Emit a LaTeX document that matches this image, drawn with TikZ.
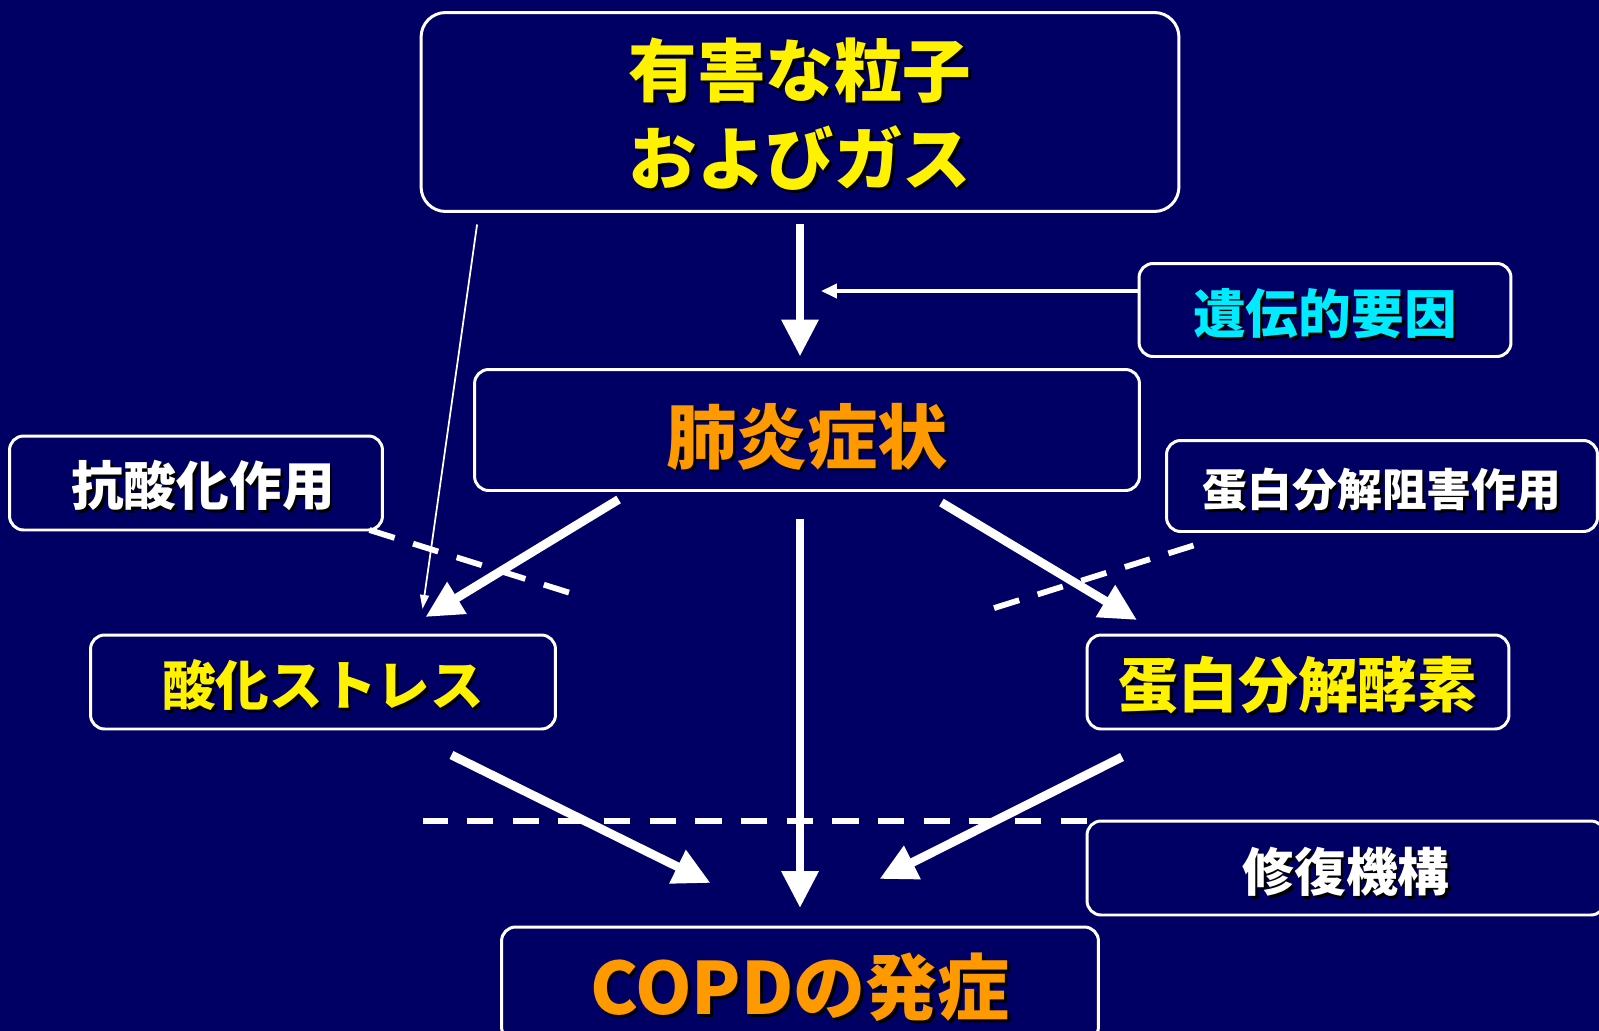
\documentclass[tikz,border=0pt]{standalone}
\usepackage{fontspec}
\newfontfamily\jp{Noto Sans CJK JP}
\usetikzlibrary{arrows.meta,calc}
\definecolor{bg}{RGB}{0,0,100}
\definecolor{orng}{RGB}{255,153,0}
\definecolor{cyn}{RGB}{0,235,255}
\newcommand\shtxt[2][2.5pt]{\raisebox{-#1}[\height][\depth]{\makebox[0pt][l]{\hspace{1.6pt}\raisebox{-1.6pt}{\color{black}#2}}#2}}
\tikzset{
  box/.style={draw=white, line width=1.7pt, rounded corners=8pt, inner sep=0pt, outer sep=0pt, align=center},
  bigarrow/.style={white, line width=5pt, -{Triangle[length=21pt,width=20pt]}},
  thinarrow/.style={white, line width=1pt, -{Triangle[length=8pt,width=5pt]}},
  cutline/.style={white, line width=3.3pt, dash pattern=on 15pt off 11pt},
}
\begin{document}
\begin{tikzpicture}[x=0.02cm,y=-0.02cm]
      \useasboundingbox (0,0) rectangle (1599,1031);
      \clip (0,0) rectangle (1599,1031);
      \fill[bg] (0,0) rectangle (1599,1031);
      \begin{scope}[font=\jp\bfseries]
        \node[box, rounded corners=14pt, minimum width=15.16cm, minimum height=3.98cm, text=yellow,
              font=\jp\bfseries\fontsize{39}{50}\selectfont] (harm) at (800,112) {\shtxt[2pt]{有害な粒子}\\\shtxt[2pt]{およびガス}};
        \node[box, minimum width=7.44cm, minimum height=1.86cm, text=cyn, font=\jp\bfseries\fontsize{30}{34}\selectfont] (gene) at (1325,310) {\shtxt[3pt]{遺伝的要因}};
        \node[box, minimum width=13.3cm, minimum height=2.42cm, text=orng, font=\jp\bfseries\fontsize{40}{46}\selectfont] (infl) at (807,430) {\shtxt[4.5pt]{肺炎症状}};
        \node[box, minimum width=7.46cm, minimum height=1.88cm, text=white, font=\jp\bfseries\fontsize{30}{34}\selectfont] (anti) at (196,483) {\hspace{0.28cm}\shtxt{抗酸化作用}};
        \node[box, minimum width=8.62cm, minimum height=1.82cm, text=white, font=\jp\bfseries\fontsize{25.5}{30}\selectfont] (inhib) at (1382,486) {\shtxt[3pt]{蛋白分解阻害作用}};
        \node[box, minimum width=9.3cm, minimum height=1.88cm, text=yellow, font=\jp\bfseries\fontsize{30.5}{34}\selectfont] (oxid) at (323,682) {\shtxt{酸化ストレス}};
        \node[box, minimum width=8.44cm, minimum height=1.88cm, text=yellow, font=\jp\bfseries\fontsize{34}{38}\selectfont] (prot) at (1298,682) {\shtxt{蛋白分解酵素}};
        \node[box, minimum width=10.36cm, minimum height=1.88cm, text=white, font=\jp\bfseries\fontsize{29.5}{34}\selectfont] (repair) at (1346,868) {\shtxt[3pt]{修復機構}};
        \node[box, minimum width=11.94cm, minimum height=2.28cm, text=orng, font=\jp\bfseries\fontsize{41}{46}\selectfont] (copd) at (800,984) {\shtxt{COPDの発症}};
      \end{scope}
      % main flow
      \draw[bigarrow, shorten <=13*0.02cm, shorten >=13*0.02cm] (harm.south) -- (harm.south |- infl.north);
      \draw[white, line width=2pt, -{Triangle[length=9pt,width=8pt]}] ($(gene.west)+(0,-19)$) -- ++(-318,0);
      \draw[thinarrow] ($(harm.south west)+(56,13)$) -- ($(oxid.north west)+(332,-26)$);
      \draw[bigarrow] ($(infl.south west)+(144,9)$) -- ($(oxid.north east)+(-130,-18)$);
      \draw[bigarrow] ($(infl.south east)+(-198,12)$) -- ($(prot.north west)+(50,-15)$);
      \draw[bigarrow, shorten <=29*0.02cm, shorten >=19*0.02cm] (copd.north |- infl.south) -- (copd.north);
      \draw[bigarrow] ($(oxid.south east)+(-104,26)$) -- ($(copd.north west)+(209,-44)$);
      \draw[bigarrow] ($(prot.south west)+(35,28)$) -- ($(copd.north east)+(-219,-48)$);
      % blocking lines
      \draw[cutline] ($(anti.south east)+(-13,0)$) -- ++(204,64);
      \draw[cutline] ($(inhib.south west)+(27,14)$) -- ++(-204,64);
      \draw[cutline] (repair.north west) -- ++(-664,0);
  \end{tikzpicture}
\end{document}
